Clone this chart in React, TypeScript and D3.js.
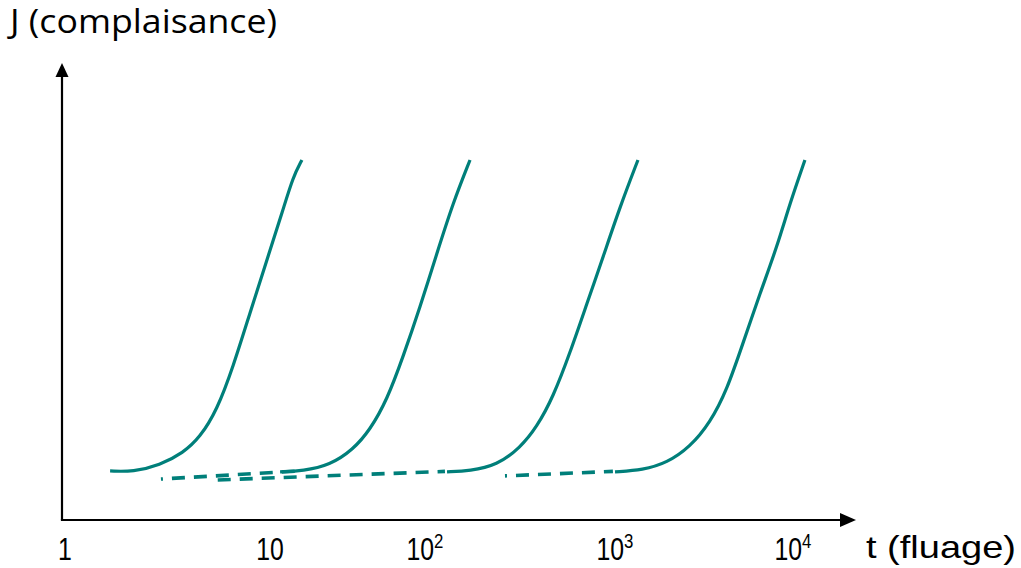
import React from "react";
import * as d3 from "d3";

// log10(t) ticks and their labels (base / exponent)
const tickDecades = [0, 1, 2, 3, 4];
const tickBase = ["1", "10", "10", "10", "10"];
const tickExp = ["", "", "2", "3", "4"];

// creep compliance curves: log10(t) and J (arbitrary units)
const curve1LogT = [0.22, 0.332, 0.463, 0.576, 0.659, 0.741, 0.82, 0.902, 0.985, 1.084, 1.148, 1.206];
const curve1J = [10.9, 10.7, 12.2, 14.9, 18.4, 24.4, 34.0, 46.0, 57.8, 68.9, 76.2, 80.0];
const curve2LogT = [1.065, 1.213, 1.387, 1.535, 1.645, 1.755, 1.858, 1.968, 2.063, 2.147, 2.237];
const curve2J = [10.7, 10.9, 12.2, 15.6, 20.0, 26.7, 36.2, 47.3, 59.3, 70.4, 80.0];
const curve3LogT = [2.116, 2.237, 2.379, 2.5, 2.589, 2.674, 2.763, 2.853, 2.937, 3.028, 3.129];
const curve3J = [10.7, 10.9, 12.2, 16.0, 20.7, 27.3, 37.1, 48.2, 58.4, 69.6, 80.0];
const curve4LogT = [3.0, 3.157, 3.292, 3.421, 3.534, 3.629, 3.719, 3.815, 3.91, 3.983, 4.067];
const curve4J = [10.7, 11.1, 12.7, 16.2, 21.6, 28.9, 39.3, 50.4, 60.7, 70.4, 80.0];

// dashed extensions (glassy plateau links)
const dashALogT = [0.468, 1.194];
const dashAJ = [9.1, 10.9];
const dashBLogT = [0.745, 2.105];
const dashBJ = [8.9, 10.8];
const dashCLogT = [2.421, 2.989];
const dashCJ = [9.8, 10.8];

const curves = [
  [curve1LogT, curve1J],
  [curve2LogT, curve2J],
  [curve3LogT, curve3J],
  [curve4LogT, curve4J],
];
const dashes = [
  [dashALogT, dashAJ, true],
  [dashBLogT, dashBJ, false],
  [dashCLogT, dashCJ, true],
];

const W = 1021;
const H = 568;
const TEAL = "#007f7a";

export default function App() {
  const x = d3.scaleLinear().domain(tickDecades).range([65, 270, 425, 615, 793]);
  const y = d3.scaleLinear().domain([0, 100]).range([520, 70]);

  const line = d3
    .line<[number, number]>()
    .x((d) => x(d[0]))
    .y((d) => y(d[1]))
    .curve(d3.curveBasis);
  const straight = d3
    .line<[number, number]>()
    .x((d) => x(d[0]))
    .y((d) => y(d[1]));

  const toPts = (xs: number[], ys: number[]) => xs.map((v, i) => [v, ys[i]] as [number, number]);

  const dashDot = "2 9 " + Array(40).fill("13 9").join(" ");
  const dashOnly = "13 9";

  const axisX0 = 62;
  const axisY0 = y(0);
  const font = "'Liberation Sans', Arial, sans-serif";

  return (
    <svg width={W} height={H} style={{ position: "absolute", left: 0, top: 0, background: "#fff" }}>
      <rect width={W} height={H} fill="#fff" />
      {/* axes */}
      <line x1={axisX0} y1={axisY0} x2={axisX0} y2={74} stroke="#000" strokeWidth={2.2} />
      <path d={`M${axisX0},63 L${axisX0 - 6.5},77 L${axisX0 + 6.5},77 Z`} fill="#000" />
      <line x1={axisX0 - 1.1} y1={axisY0} x2={842} y2={axisY0} stroke="#000" strokeWidth={2.2} />
      <path d={`M856,${axisY0} L840,${axisY0 - 7} L840,${axisY0 + 7} Z`} fill="#000" />

      {/* dashed links */}
      {dashes.map(([xs, ys, dot], i) => (
        <path
          key={"d" + i}
          d={straight(toPts(xs as number[], ys as number[])) || ""}
          fill="none"
          stroke={TEAL}
          strokeWidth={3.6}
          strokeDasharray={dot ? dashDot : dashOnly}
        />
      ))}

      {/* curves */}
      {curves.map(([xs, ys], i) => (
        <path key={"c" + i} d={line(toPts(xs, ys)) || ""} fill="none" stroke={TEAL} strokeWidth={3.2} />
      ))}

      {/* tick labels */}
      {tickDecades.map((d, i) => (
        <g key={"t" + i} transform={`translate(${x(d)},560) scale(0.8,1)`}>
          <text x={0} y={0} textAnchor="middle" fontFamily={font} fontSize={31} fill="#000">
            {tickBase[i]}
            {tickExp[i] ? (
              <tspan dy={-12} fontSize={21}>
                {tickExp[i]}
              </tspan>
            ) : null}
          </text>
        </g>
      ))}

      {/* axis titles */}
      <text x={866} y={558} fontFamily={font} fontSize={32} fill="#000" textLength={150} lengthAdjust="spacingAndGlyphs">
        t (fluage)
      </text>
      <text x={10} y={33} fontFamily="'Open Sans', 'DejaVu Sans', sans-serif" fontSize={32} fill="#000" textLength={267} lengthAdjust="spacingAndGlyphs">
        J (complaisance)
      </text>
    </svg>
  );
}
